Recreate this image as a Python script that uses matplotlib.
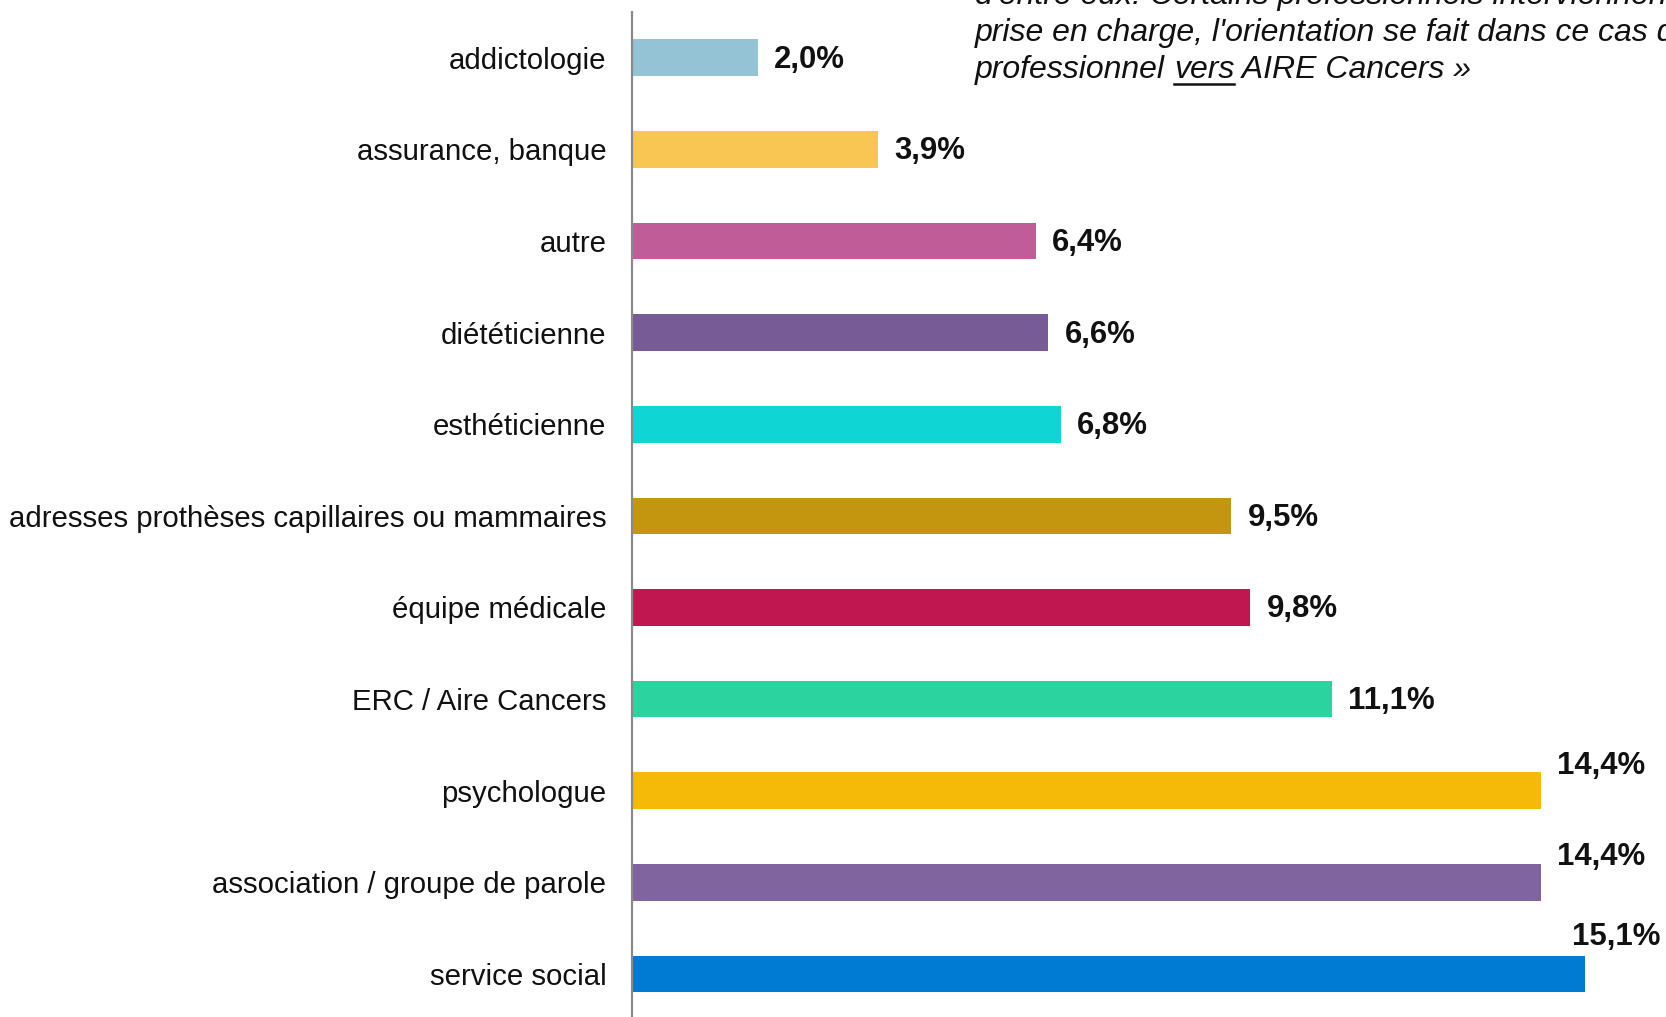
import matplotlib
matplotlib.use("Agg")
import matplotlib.pyplot as plt

categories = ["addictologie", "assurance, banque", "autre", "diététicienne",
              "esthéticienne", "adresses prothèses capillaires ou mammaires",
              "équipe médicale", "ERC / Aire Cancers", "psychologue",
              "association / groupe de parole", "service social"]
values = [2.0, 3.9, 6.4, 6.6, 6.8, 9.5, 9.8, 11.1, 14.4, 14.4, 15.1]
value_labels = ["2,0%", "3,9%", "6,4%", "6,6%", "6,8%", "9,5%", "9,8%",
                "11,1%", "14,4%", "14,4%", "15,1%"]
colors = ["#93C3D4", "#F7C653", "#C05C98", "#775B96", "#10D5D5", "#C4960F",
          "#C01751", "#2BD49E", "#F5B908", "#8064A0", "#007BD3"]
note_lines = ["d'entre eux. Certains professionnels interviennent à la",
              "prise en charge, l'orientation se fait dans ce cas du"]
note_last = ["professionnel ", "vers", " AIRE Cancers »"]

plt.rcParams['font.family'] = ['Liberation Sans', 'DejaVu Sans']

W, H = 1666, 1017
fig = plt.figure(figsize=(W / 100, H / 100), dpi=100)
ax_left = 632 / W
ax_top = 12 / H
ax = fig.add_axes([ax_left, 0, 1 - ax_left, 1 - ax_top])

ypos = list(range(len(categories)))
ax.barh(ypos, values, height=0.40, color=colors)
ax.set_xlim(0, (W - 632) / 63.1)
ax.set_ylim(10.47, -0.5)

for s in ["top", "right", "bottom"]:
    ax.spines[s].set_visible(False)
ax.spines["left"].set_color("#8a8a8a")
ax.spines["left"].set_linewidth(1.6)
ax.set_xticks([])
ax.set_yticks(ypos)
ax.set_yticklabels(categories, fontsize=21.2, color="#111111")
ax.tick_params(axis="y", length=0, pad=18.5)

for y, v, lab in zip(ypos, values, value_labels):
    dx, dy = 16, -2
    if v >= 14:
        dy = 25 if v < 15 else 37
        if v >= 15:
            dx = -13
    ax.annotate(lab, xy=(v, y), xytext=(dx * 0.72, dy * 0.72),
                textcoords="offset points", ha="left", va="center",
                fontsize=22.4, fontweight="bold", color="#111111",
                annotation_clip=False)

# note text (top right, italic)
FS = 23
ys = [-4, 33]
for t, yp in zip(note_lines, ys):
    fig.text(975 / W, 1 - yp / H, t, fontsize=FS, style="italic",
             ha="left", va="center", color="#111111")

fig.canvas.draw()
renderer = fig.canvas.get_renderer()
x_cur = 975
y_last = 70
for i, part in enumerate(note_last):
    t = fig.text(x_cur / W, 1 - y_last / H, part, fontsize=FS, style="italic",
                 ha="left", va="center", color="#111111")
    bb = t.get_window_extent(renderer)
    if i == 1:
        fig.add_artist(plt.Line2D([bb.x0 / W, bb.x1 / W],
                                  [(bb.y0 + 1) / H, (bb.y0 + 1) / H],
                                  transform=fig.transFigure, color="#111111",
                                  linewidth=1.8))
    x_cur = bb.x1

fig.savefig("out.png", dpi=100)
